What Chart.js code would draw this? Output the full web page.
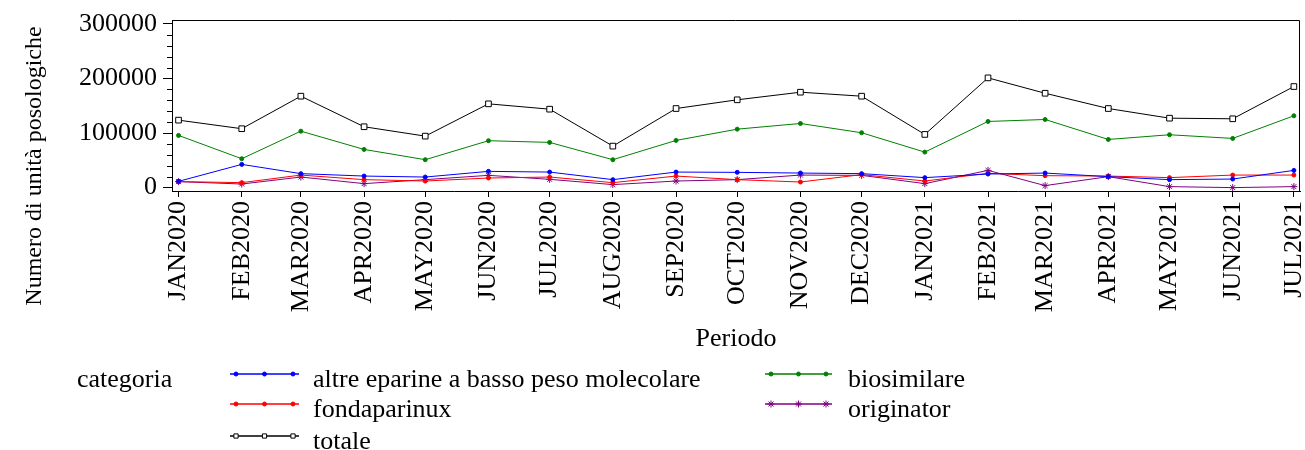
<!DOCTYPE html>
<html>
<head>
<meta charset="utf-8">
<script src="https://cdn.jsdelivr.net/npm/chart.js@4.4.1/dist/chart.umd.min.js"></script>
<style>
    html, body { margin: 0; padding: 0; background: #fff; }
</style>
</head>
<body>
<canvas id="lineChart" width="1305" height="450"></canvas>
<script>
// Unità posologiche per categoria, gen 2020 - lug 2021
const months = ['JAN2020', 'FEB2020', 'MAR2020', 'APR2020', 'MAY2020', 'JUN2020', 'JUL2020',
    'AUG2020', 'SEP2020', 'OCT2020', 'NOV2020', 'DEC2020', 'JAN2021', 'FEB2021', 'MAR2021',
    'APR2021', 'MAY2021', 'JUN2021', 'JUL2021'];

const altre = [11500, 42600, 25600, 21200, 19400, 29800, 28500, 14600, 28500, 28000,
    26700, 25600, 18300, 24900, 26700, 20100, 14600, 15700, 31600];
const fondaparinux = [11000, 9100, 23000, 14600, 12100, 17600, 19400, 9100, 21200, 14600,
    10300, 23800, 12100, 26200, 21900, 21200, 18300, 23000, 23000];
const biosimilare = [95700, 53000, 103500, 70000, 51200, 86000, 82900, 51200, 86500, 107200,
    117600, 100600, 65100, 121300, 124900, 88300, 96900, 90200, 131700];
const originator = [11000, 6600, 19400, 7300, 14600, 22500, 15200, 5500, 12100, 14600,
    23000, 22500, 7300, 31600, 3700, 20100, 1800, 0, 1800];
const totale = [123700, 108000, 167600, 111600, 94400, 153600, 143800, 76100, 145000, 161000,
    174900, 167600, 97500, 201200, 173000, 145000, 127300, 126200, 185300];

const yTicks = [0, 100000, 200000, 300000];
const yMinorStep = 20000;

document.addEventListener('DOMContentLoaded', function() {
    const FONT = '"Liberation Serif", "Times New Roman", serif';
    const monthNames = ['JAN', 'FEB', 'MAR', 'APR', 'MAY', 'JUN', 'JUL', 'AUG', 'SEP', 'OCT', 'NOV', 'DEC'];

    // the x axis is a real date axis: days since 1 Jan 2020
    const dayOf = label => {
        const m = monthNames.indexOf(label.slice(0, 3));
        const y = parseInt(label.slice(3), 10);
        return (Date.UTC(y, m, 1) - Date.UTC(2020, 0, 1)) / 86400000;
    };
    const days = months.map(dayOf);
    const toPoints = arr => arr.map((v, i) => ({ x: days[i], y: v }));

    const series = [
        { label: 'altre eparine a basso peso molecolare', data: altre, color: '#0000ff', style: 'circle', r: 2 },
        { label: 'biosimilare', data: biosimilare, color: '#008000', style: 'circle', r: 2 },
        { label: 'fondaparinux', data: fondaparinux, color: '#ff0000', style: 'circle', r: 2 },
        { label: 'originator', data: originator, color: '#800080', style: 'star', r: 3.5 },
        { label: 'totale', data: totale, color: '#000000', style: 'rect', r: 4 }
    ];

    const datasets = series.map(s => ({
        label: s.label,
        data: toPoints(s.data),
        borderColor: s.color,
        backgroundColor: s.style === 'rect' ? '#ffffff' : s.color,
        borderWidth: 1,
        pointStyle: s.style,
        pointRadius: s.r,
        pointBorderWidth: 1,
        pointBorderColor: s.color,
        pointBackgroundColor: s.style === 'rect' ? '#ffffff' : s.color,
        tension: 0
    }));

    // frame, minor ticks, axis titles and the legend
    const decorations = {
        id: 'decorations',
        afterDraw(chart) {
            const ctx = chart.ctx;
            const area = chart.chartArea;
            const yScale = chart.scales.y;
            ctx.save();
            ctx.strokeStyle = '#000';
            ctx.lineWidth = 1;
            ctx.beginPath();
            ctx.moveTo(area.left, area.top + 0.5);
            ctx.lineTo(area.right - 0.5, area.top + 0.5);
            ctx.lineTo(area.right - 0.5, area.bottom);
            ctx.stroke();

            ctx.beginPath();
            for (let v = 0; v <= yTicks[yTicks.length - 1]; v += yMinorStep) {
                if (yTicks.includes(v)) continue;
                const py = Math.round(yScale.getPixelForValue(v)) + 0.5;
                ctx.moveTo(area.left - 5, py);
                ctx.lineTo(area.left, py);
            }
            ctx.stroke();

            ctx.fillStyle = '#000';
            ctx.font = '26px ' + FONT;
            ctx.textAlign = 'center';
            ctx.textBaseline = 'alphabetic';
            ctx.fillText('Periodo', (area.left + area.right) / 2, 346);

            ctx.save();
            ctx.translate(41, 166);
            ctx.rotate(-Math.PI / 2);
            ctx.font = '24px ' + FONT;
            ctx.fillText('Numero di unità posologiche', 0, 0);
            ctx.restore();

            // legend
            ctx.textAlign = 'left';
            ctx.font = '26px ' + FONT;
            ctx.fillText('categoria', 77, 387);
            const cols = [{ x0: 230, x1: 299, tx: 313 }, { x0: 765, x1: 832, tx: 848 }];
            const rows = [374, 404, 436];
            series.forEach((s, i) => {
                const col = cols[i % 2];
                const ly = rows[Math.floor(i / 2)];
                ctx.strokeStyle = s.color;
                ctx.lineWidth = 1.5;
                ctx.beginPath();
                ctx.moveTo(col.x0, ly);
                ctx.lineTo(col.x1, ly);
                ctx.stroke();
                ctx.lineWidth = 1;
                ctx.fillStyle = s.style === 'rect' ? '#ffffff' : s.color;
                [col.x0 + 6, (col.x0 + col.x1) / 2, col.x1 - 6].forEach(mx => {
                    Chart.helpers.drawPoint(ctx, {
                        pointStyle: s.style, radius: s.style === 'rect' ? 3 : s.r, rotation: 0, borderWidth: 1
                    }, mx, ly);
                });
                ctx.fillStyle = '#000';
                ctx.fillText(s.label, col.tx, ly + 13);
            });
            ctx.restore();
        }
    };

    const tickFont = { family: FONT, size: 26 };

    new Chart(document.getElementById('lineChart'), {
        type: 'line',
        data: { datasets: datasets },
        options: {
            responsive: false,
            animation: false,
            layout: { padding: { left: 0, right: 5, top: 20, bottom: 100 } },
            plugins: {
                legend: { display: false },
                tooltip: { enabled: false }
            },
            scales: {
                x: {
                    type: 'linear',
                    min: -3.2,
                    max: 550,
                    afterBuildTicks: scale => {
                        scale.ticks = days.map(d => ({ value: d }));
                    },
                    afterFit: scale => {
                        scale.height = 159;
                        scale.paddingLeft = 0;
                        scale.paddingRight = 0;
                    },
                    grid: { drawOnChartArea: false, tickLength: 6, color: '#000' },
                    border: { color: '#000', width: 1 },
                    ticks: {
                        autoSkip: false,
                        minRotation: 90,
                        maxRotation: 90,
                        padding: 4,
                        color: '#000',
                        font: tickFont,
                        callback: (value, index) => months[index]
                    }
                },
                y: {
                    min: -6200,
                    max: 307300,
                    afterBuildTicks: scale => {
                        scale.ticks = yTicks.map(v => ({ value: v }));
                    },
                    afterFit: scale => {
                        scale.width = 172;
                        scale.paddingTop = 0;
                        scale.paddingBottom = 0;
                    },
                    grid: { drawOnChartArea: false, tickLength: 9, color: '#000' },
                    border: { color: '#000', width: 1 },
                    ticks: {
                        padding: 6,
                        color: '#000',
                        font: tickFont,
                        callback: value => String(value)
                    }
                }
            }
        },
        plugins: [decorations]
    });
});
</script>
</body>
</html>
